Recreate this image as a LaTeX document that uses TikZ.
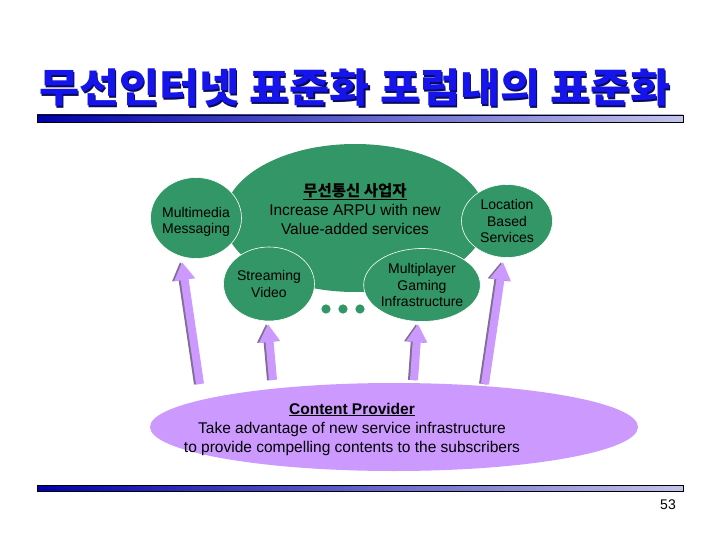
\documentclass[tikz,border=0pt]{standalone}
\usepackage{fontspec}
\setmainfont{Liberation Sans}
\newfontfamily\krfont{Noto Sans CJK KR}
\usetikzlibrary{shapes.geometric,arrows.meta}
\definecolor{grn}{RGB}{51,150,102}
\definecolor{lilac}{RGB}{204,153,255}
\definecolor{titleblue}{RGB}{20,20,235}
\definecolor{navy}{RGB}{10,10,90}
\definecolor{bardark}{RGB}{0,0,170}
\definecolor{barlight}{RGB}{195,195,235}
\definecolor{arrshadow}{RGB}{130,110,150}
\begin{document}
\begin{tikzpicture}[x=1pt,y=-1pt,
  bubble/.style={ellipse, fill=grn, draw=white, line width=0.6pt, inner sep=0pt, align=center,
     font=\fontsize{14}{16.5}\selectfont},
  bubbletext/.style={align=center, font=\fontsize{14}{16.5}\selectfont},
  dot/.style={circle, fill=grn, draw=white, line width=0.5pt, minimum size=10pt, inner sep=0pt},
  uparrow/.style={-{Triangle[length=18pt,width=20pt]}, line width=8pt, draw=lilac},
  upshadow/.style={-{Triangle[length=18pt,width=20pt]}, line width=8pt, draw=arrshadow},
  bar/.style={draw=black, line width=0.8pt}]
\useasboundingbox (0,0) rectangle (720,540);
\fill[white] (0,0) rectangle (720,540);
% title
\node[text=navy, font=\krfont\bfseries\fontsize{40}{44}\selectfont] (titleshadow) at (356.2,89.2) {\scalebox{1.09}[1]{무선인터넷 표준화 포럼내의 표준화}};
\node[text=titleblue, font=\krfont\bfseries\fontsize{40}{44}\selectfont] (title) at (355,88) {\scalebox{1.09}[1]{무선인터넷 표준화 포럼내의 표준화}};
% bars
\shade[left color=bardark, right color=barlight] (37,115) rectangle (683,122);
\draw[bar] (37,115) rectangle (683,122);
\shade[left color=bardark, right color=barlight] (37,485) rectangle (683,491);
\draw[bar] (37,485) rectangle (683,491);
\node[font=\fontsize{14}{16}\selectfont] (pagenum) at (668,505) {53};
% big operator ellipse
\node[ellipse, fill=grn, minimum width=262pt, minimum height=148pt, inner sep=0pt] (operator) at (355,218) {};
\node[align=center, font=\fontsize{15.5}{19}\selectfont] (optext) at (355,209)
  {{\krfont\bfseries\underline{무선통신 사업자}}\\Increase ARPU with new\\Value-added services};
% small bubbles
\node[bubble, minimum width=91pt, minimum height=81pt] (mms) at (196,218) {};
\node[bubbletext] (mmstext) at (196,222) {Multimedia\\Messaging};
\node[bubble, minimum width=91pt, minimum height=74pt] (video) at (269,284) {Streaming\\Video};
\node[bubble, minimum width=91pt, minimum height=73pt] (lbs) at (507,221) {Location\\Based\\Services};
\node[bubble, minimum width=113pt, minimum height=73pt] (game) at (422,285) {Multiplayer\\Gaming\\Infrastructure};
\node[dot] (d1) at (326,309) {};
\node[dot] (d2) at (343,309) {};
\node[dot] (d3) at (360,309) {};
% content provider
\node[ellipse, fill=lilac, minimum width=488pt, minimum height=88pt, inner sep=0pt] (cp) at (394,427) {};
\node[align=center, font=\fontsize{15.5}{19}\selectfont] (cptext) at (352,429)
  {\textbf{\underline{Content Provider}}\\Take advantage of new service infrastructure\\to provide compelling contents to the subscribers};
% arrows
\coordinate (a1s) at (200,384); \coordinate (a1e) at (182,262);
\coordinate (a2s) at (273,380); \coordinate (a2e) at (268,324);
\coordinate (a3s) at (414,380); \coordinate (a3e) at (418,324);
\coordinate (a4s) at (485,384); \coordinate (a4e) at (503,262);
\foreach \s/\e in {a1s/a1e,a2s/a2e,a3s/a3e,a4s/a4e}{
  \draw[upshadow] ([xshift=-2pt]\s) -- ([xshift=-2pt]\e);
  \draw[uparrow] (\s) -- (\e);
}
\end{tikzpicture}
\end{document}
